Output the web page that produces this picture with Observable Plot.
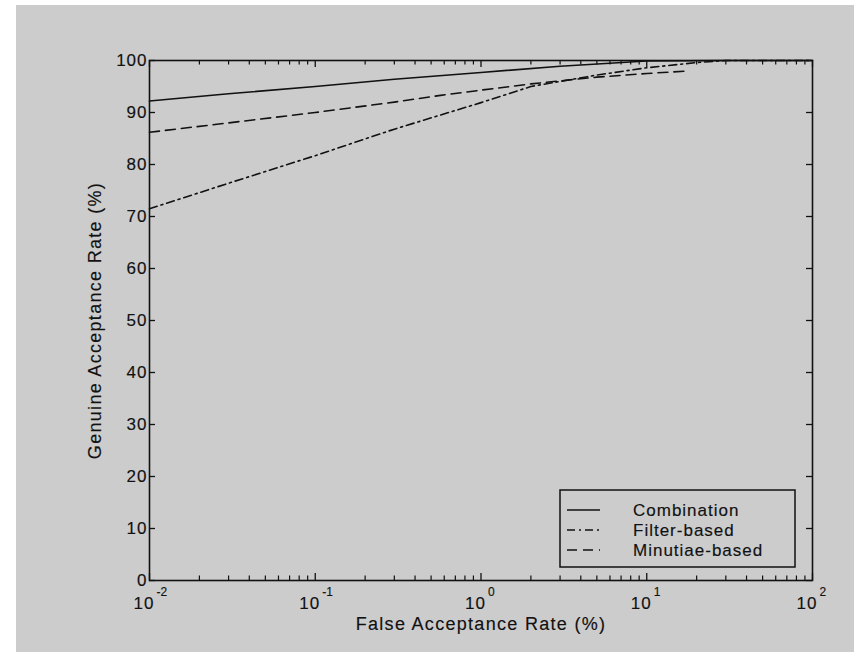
<!DOCTYPE html>
<html>
<head>
<meta charset="utf-8">
<script src="https://cdn.jsdelivr.net/npm/d3@7"></script>
<script src="https://cdn.jsdelivr.net/npm/@observablehq/plot@0.6"></script>
<style>
  html, body { margin: 0; padding: 0; background: #ffffff; }
  #bg { position: absolute; left: 16px; top: 5px; width: 838px; height: 647px; background: #cccccc; overflow: hidden; }
  #bg svg { position: absolute; left: 0; top: 0; }
  #bg text { stroke: #111111; stroke-width: 0.15px; }
  .spaced text { letter-spacing: 1px; }
  .wide text { letter-spacing: 1.3px; }
</style>
</head>
<body>
<div id="bg"></div>
<script>
// ---- data ----
const seriesNames = ["Combination", "Filter-based", "Minutiae-based"];
const farComb = [0.01, 0.03, 0.1, 0.3, 1, 3, 10, 30, 100];
const garComb = [92.2, 93.6, 95.0, 96.4, 97.7, 98.9, 99.9, 100, 100];
const farFilt = [0.01, 0.03, 0.1, 0.3, 1, 2, 5, 10, 20, 30, 100];
const garFilt = [71.5, 76.4, 81.7, 86.8, 91.9, 95.0, 97.2, 98.6, 99.6, 100, 100];
const farMin = [0.01, 0.03, 0.1, 0.3, 0.57, 1, 2, 5, 10, 18];
const garMin = [86.2, 88.0, 90.0, 92.0, 93.3, 94.3, 95.5, 96.8, 97.5, 98.0];
const xExponents = [-2, -1, 0, 1, 2];
const yTickValues = [0, 10, 20, 30, 40, 50, 60, 70, 80, 90, 100];
const xLabel = "False Acceptance Rate (%)";
const yLabel = "Genuine Acceptance Rate (%)";

// ---- build tables ----
const toRows = (xs, ys) => xs.map((x, i) => ({x, y: ys[i]}));
const comb = toRows(farComb, garComb);
const filt = toRows(farFilt, garFilt);
const mins = toRows(farMin, garMin);
const majorX = xExponents.map(e => 10 ** e);
const minorX = [];
for (const e of xExponents.slice(0, -1)) for (let m = 2; m <= 9; m++) minorX.push(m * 10 ** e);

const W = 838, H = 647;
const mL = 133, mR = 42, mT = 55, mB = 72;
const innerW = W - mL - mR, innerH = H - mT - mB;
const pxPerDecade = innerW / 4;
const pxPerUnit = innerH / 100;
// tick lengths converted to data units
const kx = (px) => 10 ** (px / pxPerDecade);
const ky = (px) => px / pxPerUnit;

const ink = "#111111";
const font = "'Liberation Sans', Arial, Helvetica, sans-serif";

const chart = Plot.plot({
  width: W, height: H,
  marginLeft: mL, marginRight: mR, marginTop: mT, marginBottom: mB,
  style: {background: "transparent", fontFamily: font, fontSize: "17px", color: ink, overflow: "visible"},
  x: {type: "log", domain: [0.01, 100], axis: null},
  y: {domain: [0, 100], axis: null},
  marks: [
    // lines
    Plot.line(comb, {x: "x", y: "y", stroke: ink, strokeWidth: 1.6}),
    Plot.line(filt, {x: "x", y: "y", stroke: ink, strokeWidth: 1.6, strokeDasharray: "8,4,2,4"}),
    Plot.line(mins, {x: "x", y: "y", stroke: ink, strokeWidth: 1.6, strokeDasharray: "10,6"}),
    // inward ticks: left / right
    Plot.ruleY(yTickValues, {y: d => d, x1: 0.01, x2: 0.01 * kx(6), stroke: ink, strokeWidth: 1.3}),
    Plot.ruleY(yTickValues, {y: d => d, x1: 100 / kx(6), x2: 100, stroke: ink, strokeWidth: 1.3}),
    // inward ticks: bottom / top (major)
    Plot.ruleX(majorX, {x: d => d, y1: 0, y2: ky(7), stroke: ink, strokeWidth: 1.3}),
    Plot.ruleX(majorX, {x: d => d, y1: 100 - ky(7), y2: 100, stroke: ink, strokeWidth: 1.3}),
    // minor
    Plot.ruleX(minorX, {x: d => d, y1: 0, y2: ky(4.5), stroke: ink, strokeWidth: 1.2}),
    Plot.ruleX(minorX, {x: d => d, y1: 100 - ky(4.5), y2: 100, stroke: ink, strokeWidth: 1.2}),
    Plot.frame({stroke: ink, strokeWidth: 1.6}),
    // y tick labels
    Plot.text(yTickValues, {y: d => d, frameAnchor: "left", text: d => String(d), textAnchor: "end", dx: -2, fill: ink, fontSize: 17, className: "spaced"}),
    // x tick labels: "10" + exponent
    Plot.text(majorX, {x: d => d, frameAnchor: "bottom", text: () => "10", textAnchor: "end", dx: 5, dy: 28, fill: ink, fontSize: 17, className: "spaced"}),
    Plot.text(xExponents, {x: e => 10 ** e, frameAnchor: "bottom", text: e => e < 0 ? "-" + Math.abs(e) : String(e), textAnchor: "start", dx: 7, dy: 15, fill: ink, fontSize: 12}),
    // axis titles
    Plot.text([xLabel], {frameAnchor: "bottom", text: d => d, dy: 49, fill: ink, fontSize: 18, className: "wide"}),
    Plot.text([yLabel], {frameAnchor: "left", text: d => d, textAnchor: "middle", rotate: -90, dx: -54, fill: ink, fontSize: 18, className: "wide"})
  ]
});
document.getElementById("bg").appendChild(chart);

// ---- legend (positioned inside the figure background) ----
const legendStyles = [null, "8,4,2,4", "10,6"];
const lg = d3.select("#bg").append("svg")
  .attr("width", W).attr("height", H)
  .style("pointer-events", "none");
const boxL = 560 - 16, boxT = 490 - 5, boxR = 795 - 16, boxB = 567 - 5;
lg.append("rect")
  .attr("x", boxL).attr("y", boxT).attr("width", boxR - boxL).attr("height", boxB - boxT)
  .attr("fill", "none").attr("stroke", ink).attr("stroke-width", 1.5);
seriesNames.forEach((name, i) => {
  const cy = boxT + 20 + i * 20;
  const ln = lg.append("line")
    .attr("x1", boxL + 7).attr("x2", boxL + 40).attr("y1", cy).attr("y2", cy)
    .attr("stroke", ink).attr("stroke-width", 1.6);
  if (legendStyles[i]) ln.attr("stroke-dasharray", legendStyles[i]);
  lg.append("text")
    .attr("x", 633 - 16).attr("y", cy).attr("dy", "0.35em")
    .attr("fill", ink).style("font-family", font).style("font-size", "17px")
    .style("letter-spacing", "1px")
    .text(name);
});
</script>
</body>
</html>
